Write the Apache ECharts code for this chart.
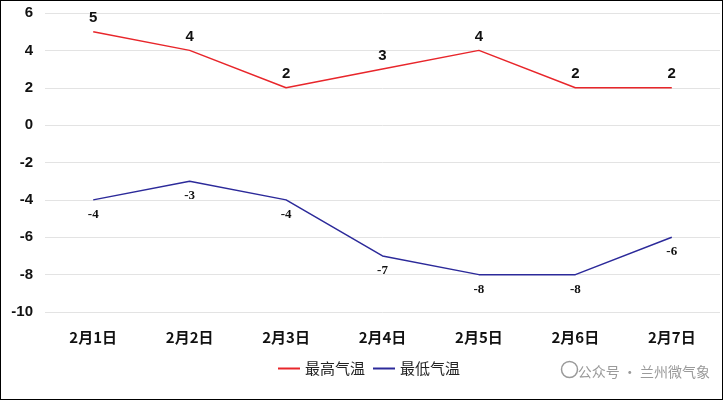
<!DOCTYPE html>
<html><head><meta charset="utf-8">
<script src="https://cdn.jsdelivr.net/npm/echarts@6/dist/echarts.min.js"></script>
<style>html,body{margin:0;padding:0;background:#fff}#c{width:721px;height:398px;border:1px solid #000}</style>
</head><body><div id="c"></div>
<script>
var days = ['2月1日', '2月2日', '2月3日', '2月4日', '2月5日', '2月6日', '2月7日'];
var highTemp = [5, 4, 2, 3, 4, 2, 2];
var lowTemp = [-4, -3, -4, -7, -8, -8, -6];

var myChart = echarts.init(document.getElementById('c'));
var option = {
  animation: false,
  grid: { left: 44, right: 2, top: 12, bottom: 87 },
  legend: {
    bottom: 18, left: 272, itemWidth: 22, itemHeight: 2, itemGap: 8,
    icon: 'rect',
    textStyle: { fontSize: 15, color: '#222', fontFamily: 'Noto Sans CJK SC' },
    data: ['最高气温', '最低气温']
  },
  xAxis: {
    type: 'category', data: days, boundaryGap: true,
    axisLine: { show: false }, axisTick: { show: false },
    axisLabel: { fontSize: 15, fontWeight: 'bold', color: '#111', margin: 18, fontFamily: 'Noto Sans CJK SC' }
  },
  yAxis: {
    type: 'value', min: -10, max: 6, interval: 2,
    axisLine: { show: false }, axisTick: { show: false },
    splitLine: { lineStyle: { color: '#e3e3e3' } },
    axisLabel: { fontSize: 15, fontWeight: 'bold', color: '#111', margin: 12, fontFamily: 'Liberation Sans' }
  },
  graphic: [{
    type: 'text', right: 12, bottom: 20,
    style: { text: '公众号 · 兰州微气象', fontSize: 14, fill: '#9a9a9a', fontFamily: 'Noto Sans CJK SC' }
  }, {
    type: 'circle', right: 142, bottom: 19, shape: { r: 8 },
    style: { fill: 'none', stroke: '#9a9a9a', lineWidth: 1.5 }
  }],
  series: [{
    name: '最高气温', type: 'line', data: highTemp, symbol: 'circle', symbolSize: 0.1,
    lineStyle: { color: '#e8262b', width: 1.5 }, itemStyle: { color: '#e8262b' },
    label: { show: true, position: 'top', distance: 6, fontSize: 15, fontWeight: 'bold', color: '#111', fontFamily: 'Liberation Sans' }
  }, {
    name: '最低气温', type: 'line', data: lowTemp, symbol: 'circle', symbolSize: 0.1,
    lineStyle: { color: '#2c2a9a', width: 1.5 }, itemStyle: { color: '#2c2a9a' },
    label: { show: true, position: 'bottom', distance: 8, fontSize: 13, fontWeight: 'bold', color: '#111', fontFamily: 'Liberation Serif' }
  }]
};
myChart.setOption(option);
</script></body></html>
